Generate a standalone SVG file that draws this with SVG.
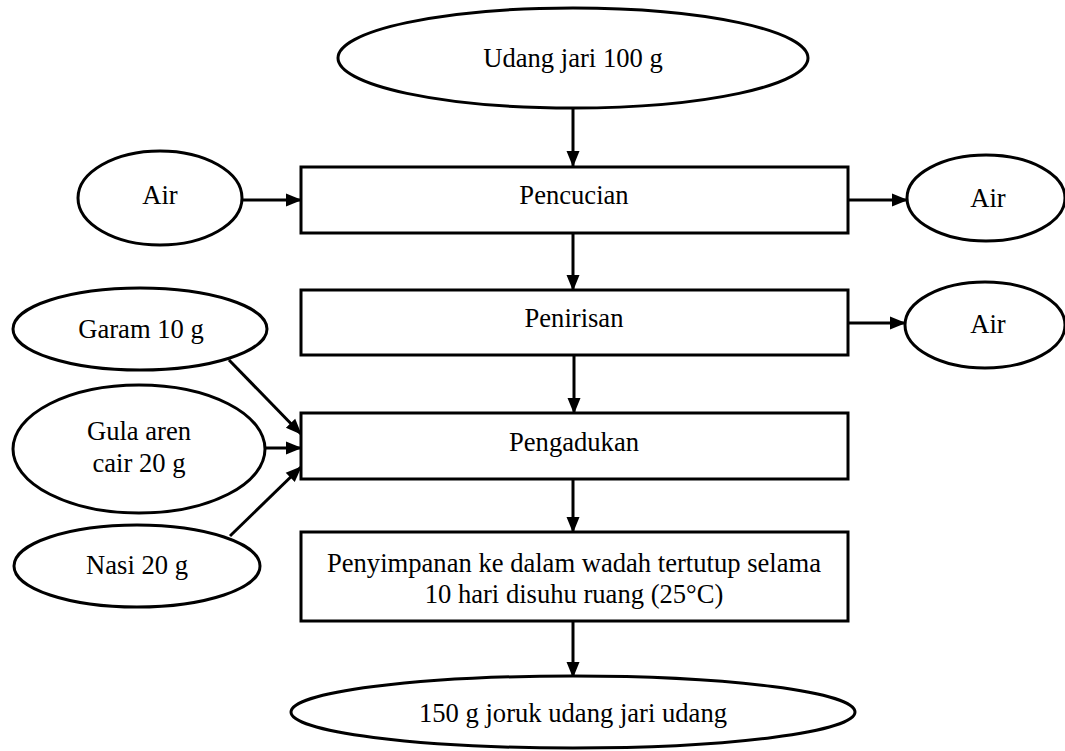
<svg xmlns="http://www.w3.org/2000/svg" width="1065" height="751" viewBox="0 0 1065 751">
<defs>
<marker id="ah" markerWidth="16" markerHeight="16" viewBox="0 0 16 16" refX="15" refY="8" orient="auto" markerUnits="userSpaceOnUse">
<path d="M0,1.5 L16,8 L0,14.5 Z" fill="#000"/>
</marker>
<style>
.s{fill:#fff;stroke:#000;stroke-width:3}
.t{font-family:'Liberation Serif','DejaVu Serif',serif;font-size:26.6px;fill:#000;text-anchor:middle}
.c{stroke:#000;stroke-width:3;fill:none;marker-end:url(#ah)}
</style>
</defs>
<rect width="1065" height="751" fill="#fff"/>
<g id="connectors">
<line class="c" x1="573" y1="108" x2="573" y2="166"/>
<line class="c" x1="243" y1="200" x2="301" y2="200"/>
<line class="c" x1="848" y1="200" x2="907" y2="200"/>
<line class="c" x1="573" y1="233" x2="573" y2="290"/>
<line class="c" x1="848" y1="323" x2="905" y2="323"/>
<line class="c" x1="574" y1="355" x2="574" y2="413"/>
<line class="c" x1="229" y1="360" x2="301" y2="434"/>
<line class="c" x1="265" y1="448" x2="301" y2="448"/>
<line class="c" x1="230" y1="536" x2="301" y2="467"/>
<line class="c" x1="573" y1="479" x2="573" y2="532"/>
<line class="c" x1="573" y1="621" x2="573" y2="677"/>
</g>
<g id="n-udang">
<ellipse class="s" cx="573" cy="58" rx="235" ry="50"/>
<text class="t" x="573" y="67">Udang jari 100 g</text>
</g>
<g id="n-air-in">
<ellipse class="s" cx="160" cy="198" rx="82" ry="47"/>
<text class="t" x="160" y="204">Air</text>
</g>
<g id="n-pencucian">
<rect class="s" x="301" y="167" width="547" height="66"/>
<text class="t" x="574" y="204">Pencucian</text>
</g>
<g id="n-air-out1">
<ellipse class="s" cx="986" cy="198" rx="79" ry="43"/>
<text class="t" x="988" y="207">Air</text>
</g>
<g id="n-penirisan">
<rect class="s" x="301" y="290" width="547" height="65"/>
<text class="t" x="574" y="327">Penirisan</text>
</g>
<g id="n-air-out2">
<ellipse class="s" cx="985" cy="325" rx="80" ry="43"/>
<text class="t" x="988" y="333">Air</text>
</g>
<g id="n-garam">
<ellipse class="s" cx="140" cy="329" rx="127" ry="41"/>
<text class="t" x="141" y="338">Garam 10 g</text>
</g>
<g id="n-gula">
<ellipse class="s" cx="139" cy="449" rx="126" ry="64"/>
<text class="t" x="139" y="440">Gula aren</text>
<text class="t" x="139" y="472">cair 20 g</text>
</g>
<g id="n-nasi">
<ellipse class="s" cx="137" cy="566" rx="123" ry="41"/>
<text class="t" x="137" y="574">Nasi 20 g</text>
</g>
<g id="n-pengadukan">
<rect class="s" x="301" y="413" width="547" height="66"/>
<text class="t" x="574" y="451">Pengadukan</text>
</g>
<g id="n-penyimpanan">
<rect class="s" x="301" y="532" width="547" height="89"/>
<text class="t" x="574" y="572">Penyimpanan ke dalam wadah tertutup selama</text>
<text class="t" x="574" y="603">10 hari disuhu ruang (25°C)</text>
</g>
<g id="n-hasil">
<ellipse class="s" cx="573" cy="712" rx="282" ry="36"/>
<text class="t" x="573" y="722">150 g joruk udang jari udang</text>
</g>
</svg>
